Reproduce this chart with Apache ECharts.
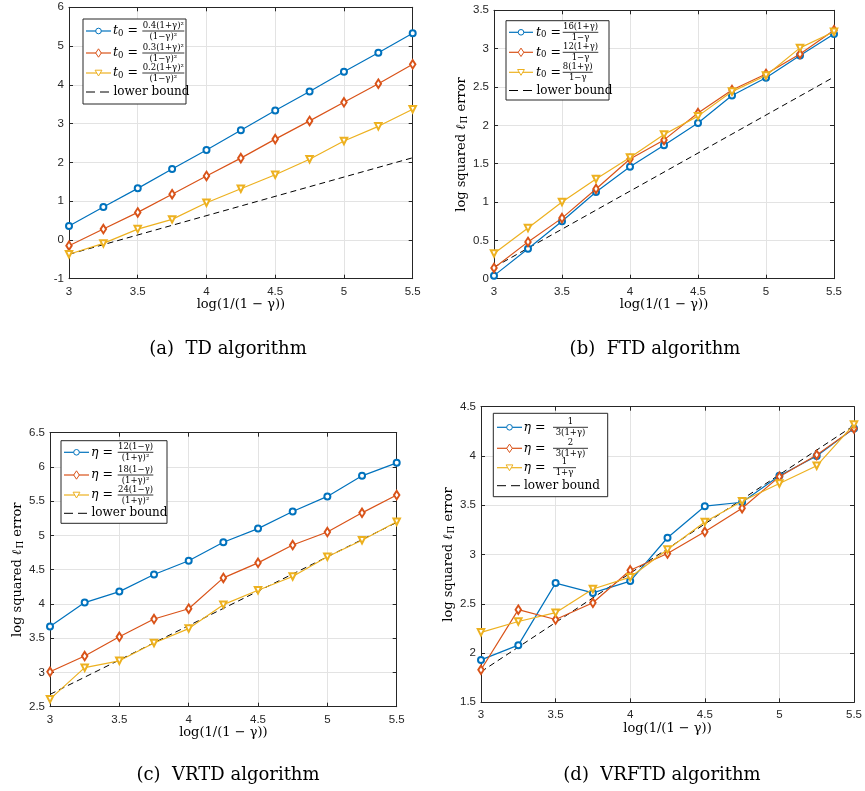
<!DOCTYPE html>
<html><head><meta charset="utf-8">
<script src="https://cdn.jsdelivr.net/npm/echarts/dist/echarts.min.js"></script>
<style>html,body{margin:0;padding:0;background:#fff}#c{width:865px;height:791px}</style>
</head><body><div id="c"></div>
<script>
// ---------- data ----------
const xVals = [3, 3.25, 3.5, 3.75, 4, 4.25, 4.5, 4.75, 5, 5.25, 5.5];
const lbX = [3, 5.5];

const tdA = [0.36, 0.85, 1.33, 1.83, 2.32, 2.83, 3.34, 3.83, 4.34, 4.83, 5.33];
const tdB = [-0.15, 0.28, 0.71, 1.18, 1.65, 2.11, 2.60, 3.07, 3.55, 4.03, 4.53];
const tdC = [-0.37, -0.09, 0.28, 0.53, 0.96, 1.32, 1.68, 2.08, 2.55, 2.93, 3.37];
const tdLB = [-0.37, 2.12];

const ftdA = [0.04, 0.39, 0.75, 1.13, 1.46, 1.74, 2.03, 2.39, 2.62, 2.91, 3.19];
const ftdB = [0.14, 0.48, 0.79, 1.17, 1.56, 1.81, 2.16, 2.46, 2.67, 2.93, 3.24];
const ftdC = [0.33, 0.66, 1.00, 1.30, 1.58, 1.88, 2.12, 2.44, 2.65, 3.01, 3.22];
const ftdLB = [0.15, 2.63];

const vrtdA = [3.67, 4.02, 4.18, 4.43, 4.63, 4.90, 5.10, 5.35, 5.57, 5.87, 6.06];
const vrtdB = [3.01, 3.24, 3.52, 3.78, 3.93, 4.38, 4.60, 4.86, 5.05, 5.33, 5.59];
const vrtdC = [2.61, 3.07, 3.17, 3.43, 3.64, 3.99, 4.20, 4.40, 4.69, 4.93, 5.20];
const vrtdLB = [2.68, 5.19];

const vrftdA = [1.93, 2.08, 2.71, 2.61, 2.73, 3.17, 3.49, 3.53, 3.80, 4.00, 4.28];
const vrftdB = [1.83, 2.44, 2.34, 2.51, 2.84, 3.01, 3.23, 3.47, 3.79, 4.01, 4.28];
const vrftdC = [2.21, 2.32, 2.41, 2.65, 2.77, 3.05, 3.33, 3.54, 3.72, 3.90, 4.32];
const vrftdLB = [1.81, 4.31];

const yRanges = [[-1, 6, 1], [0, 3.5, 0.5], [2.5, 6.5, 0.5], [1.5, 4.5, 0.5]];
const xName = 'log(1/(1 − γ))';
const yName = 'log squared {i|ℓ}{s|Π} error';
const captions = ['(a)  TD algorithm', '(b)  FTD algorithm', '(c)  VRTD algorithm', '(d)  VRFTD algorithm'];

const tdFracs = [['0.4(1+γ)²', '(1−γ)²'], ['0.3(1+γ)²', '(1−γ)²'], ['0.2(1+γ)²', '(1−γ)²']];
const ftdFracs = [['16(1+γ)', '1−γ'], ['12(1+γ)', '1−γ'], ['8(1+γ)', '1−γ']];
const vrtdFracs = [['12(1−γ)', '(1+γ)²'], ['18(1−γ)', '(1+γ)²'], ['24(1−γ)', '(1+γ)²']];
const vrftdFracs = [['1', '3(1+γ)'], ['2', '3(1+γ)'], ['1', '1+γ']];
const lbLabel = 'lower bound';

// ---------- style ----------
const COLORS = ['#0072BD', '#D95319', '#EDB120'];
const AX = '#262626';
const SERIF = 'DejaVu Serif';
const SANS = 'Liberation Sans';

const grids = [
  {left: 69, top: 7.3, width: 343.7, height: 271.4},
  {left: 494, top: 10.3, width: 340, height: 268.4},
  {left: 50, top: 432.7, width: 346.7, height: 274},
  {left: 481, top: 406.7, width: 375.7, height: 295.6}
];
const showYName = [false, true, true, true];

const xAxes = [], yAxes = [], series = [];
const tick = {show: true, inside: true, length: 4, lineStyle: {color: AX, width: 1}};
const line = {show: true, onZero: false, lineStyle: {color: AX, width: 1}};
const split = {show: true, lineStyle: {color: '#e3e3e3', width: 1}};

grids.forEach((g, gi) => {
  const [ymin, ymax, yint] = yRanges[gi];
  xAxes.push({gridIndex: gi, type: 'value', min: 3, max: 5.5, interval: 0.5, position: 'bottom',
    axisLine: line, axisTick: tick, splitLine: split,
    axisLabel: {color: AX, fontSize: 11.5, fontFamily: SANS, margin: 7},
    name: xName, nameLocation: 'middle', nameGap: 18,
    nameTextStyle: {fontFamily: SERIF, fontSize: 13, color: '#000'}});
  xAxes.push({gridIndex: gi, type: 'value', min: 3, max: 5.5, interval: 0.5, position: 'top',
    axisLine: line, axisTick: tick, splitLine: {show: false}, axisLabel: {show: false}});
  yAxes.push({gridIndex: gi, type: 'value', min: ymin, max: ymax, interval: yint, position: 'left',
    axisLine: line, axisTick: tick, splitLine: split,
    axisLabel: {color: AX, fontSize: 11.5, fontFamily: SANS, margin: 5},
    name: showYName[gi] ? yName : '', nameLocation: 'middle', nameGap: 24,
    nameTextStyle: {fontFamily: SERIF, fontSize: 13, color: '#000',
      rich: {i: {fontFamily: SERIF, fontSize: 13, fontStyle: 'italic'},
             s: {fontFamily: SERIF, fontSize: 9, padding: [6, 0, 0, 1]}}}});
  yAxes.push({gridIndex: gi, type: 'value', min: ymin, max: ymax, interval: yint, position: 'right',
    axisLine: line, axisTick: tick, splitLine: {show: false}, axisLabel: {show: false}});
});

const sets = [[tdA, tdB, tdC, tdLB], [ftdA, ftdB, ftdC, ftdLB], [vrtdA, vrtdB, vrtdC, vrtdLB], [vrftdA, vrftdB, vrftdC, vrftdLB]];
const symbols = ['emptyCircle', 'emptyDiamond', 'emptyTriangle'];
const symSizes = [6, [5.5, 8.5], 6.5];
const symRot = [0, 0, 180];
sets.forEach((s, gi) => {
  for (let k = 0; k < 3; k++) {
    series.push({type: 'line', xAxisIndex: gi * 2, yAxisIndex: gi * 2,
      data: xVals.map((x, i) => [x, s[k][i]]),
      symbol: symbols[k], symbolSize: symSizes[k], symbolRotate: symRot[k],
      lineStyle: {color: COLORS[k], width: 1.2}, itemStyle: {color: COLORS[k], borderWidth: 1},
      z: 3 + k, silent: true, animation: false});
  }
  series.push({type: 'line', xAxisIndex: gi * 2, yAxisIndex: gi * 2,
    data: lbX.map((x, i) => [x, s[3][i]]), symbol: 'none',
    lineStyle: {color: '#000', width: 1, type: [6, 4]}, z: 2, silent: true, animation: false});
});

// ---------- legends (graphic) ----------
const legends = [
  {box: [83, 19, 103, 85], rows: [31, 53, 73, 92], lx: [86, 111], labelX: 113, fracX: 142.3, widths: [42, 42, 42], lab: 't', fracs: tdFracs},
  {box: [506, 20.7, 103, 79.3], rows: [32.3, 52.3, 72.3, 90.5], lx: [509, 533], labelX: 536, fracX: 562.7, widths: [35.6, 35.6, 30], lab: 't', fracs: ftdFracs},
  {box: [61, 440.7, 106, 82.6], rows: [452.3, 475, 495, 513.3], lx: [64, 89], labelX: 91, fracX: 117.7, widths: [35.6, 35.6, 35.6], lab: 'eta', fracs: vrtdFracs},
  {box: [493.3, 413.3, 114.4, 83.4], rows: [427.3, 448.3, 467.7, 485.7], lx: [497, 522], labelX: 523.5, fracX: 553, widths: [35, 35, 23], lab: 'eta', fracs: vrftdFracs}
];
const gfx = [];
legends.forEach(L => {
  const [bx, by, bw, bh] = L.box;
  gfx.push({type: 'rect', shape: {x: bx, y: by, width: bw, height: bh},
    style: {fill: '#fff', stroke: AX, lineWidth: 1}, z: 100});
  const sx = (L.lx[0] + L.lx[1]) / 2;
  for (let k = 0; k < 3; k++) {
    const y = L.rows[k];
    gfx.push({type: 'line', shape: {x1: L.lx[0], y1: y, x2: L.lx[1], y2: y}, style: {stroke: COLORS[k], lineWidth: 1.2}, z: 101});
    if (k === 0) gfx.push({type: 'circle', shape: {cx: sx, cy: y, r: 2.8}, style: {fill: '#fff', stroke: COLORS[k], lineWidth: 1}, z: 102});
    if (k === 1) gfx.push({type: 'polygon', shape: {points: [[sx, y - 4.2], [sx + 2.8, y], [sx, y + 4.2], [sx - 2.8, y]]}, style: {fill: '#fff', stroke: COLORS[k], lineWidth: 1}, z: 102});
    if (k === 2) gfx.push({type: 'polygon', shape: {points: [[sx - 3.4, y - 2.8], [sx + 3.4, y - 2.8], [sx, y + 3]]}, style: {fill: '#fff', stroke: COLORS[k], lineWidth: 1}, z: 102});
    const txt = L.lab === 't' ? '{i|t}{s|0}{r| =}' : '{i|η}{r| =}';
    gfx.push({type: 'text', x: L.labelX, y: y, z: 102,
      style: {text: txt, textVerticalAlign: 'middle', textAlign: 'left', fill: '#000',
        fontFamily: SERIF, fontSize: 12.5,
        rich: {i: {fontFamily: SERIF, fontSize: 12.5, fontStyle: 'italic'},
               s: {fontFamily: SERIF, fontSize: 8.5, padding: [5, 0, 0, 0]},
               r: {fontFamily: SERIF, fontSize: 12.5}}}});
    const w = L.widths[k];
    const cx = L.fracX + w / 2;
    gfx.push({type: 'text', x: cx, y: y - 1.2, z: 102,
      style: {text: L.fracs[k][0], textAlign: 'center', textVerticalAlign: 'bottom', fill: '#000', fontFamily: SERIF, fontSize: 8.5}});
    gfx.push({type: 'line', shape: {x1: L.fracX, y1: y, x2: L.fracX + w, y2: y}, style: {stroke: '#000', lineWidth: 0.8}, z: 102});
    gfx.push({type: 'text', x: cx, y: y + 0.8, z: 102,
      style: {text: L.fracs[k][1], textAlign: 'center', textVerticalAlign: 'top', fill: '#000', fontFamily: SERIF, fontSize: 8.5}});
  }
  const y = L.rows[3];
  gfx.push({type: 'line', shape: {x1: L.lx[0], y1: y, x2: L.lx[1] - 1, y2: y}, style: {stroke: '#000', lineWidth: 1, lineDash: [9, 5]}, z: 101});
  gfx.push({type: 'text', x: L.labelX + 0.5, y: y, z: 102,
    style: {text: lbLabel, textVerticalAlign: 'middle', textAlign: 'left', fill: '#000', fontFamily: SERIF, fontSize: 12}});
});
const capPos = [[228, 349], [655, 349], [228, 775], [662, 775]];
captions.forEach((c, i) => {
  gfx.push({type: 'text', x: capPos[i][0], y: capPos[i][1], z: 102,
    style: {text: c, textAlign: 'center', textVerticalAlign: 'middle', fill: '#000', fontFamily: SERIF, fontSize: 18}});
});

const chart = echarts.init(document.getElementById('c'), null, {renderer: 'canvas'});
chart.setOption({
  animation: false,
  backgroundColor: '#fff',
  grid: grids.map(g => Object.assign({containLabel: false}, g)),
  xAxis: xAxes, yAxis: yAxes, series: series,
  graphic: {elements: gfx}
});
</script></body></html>
